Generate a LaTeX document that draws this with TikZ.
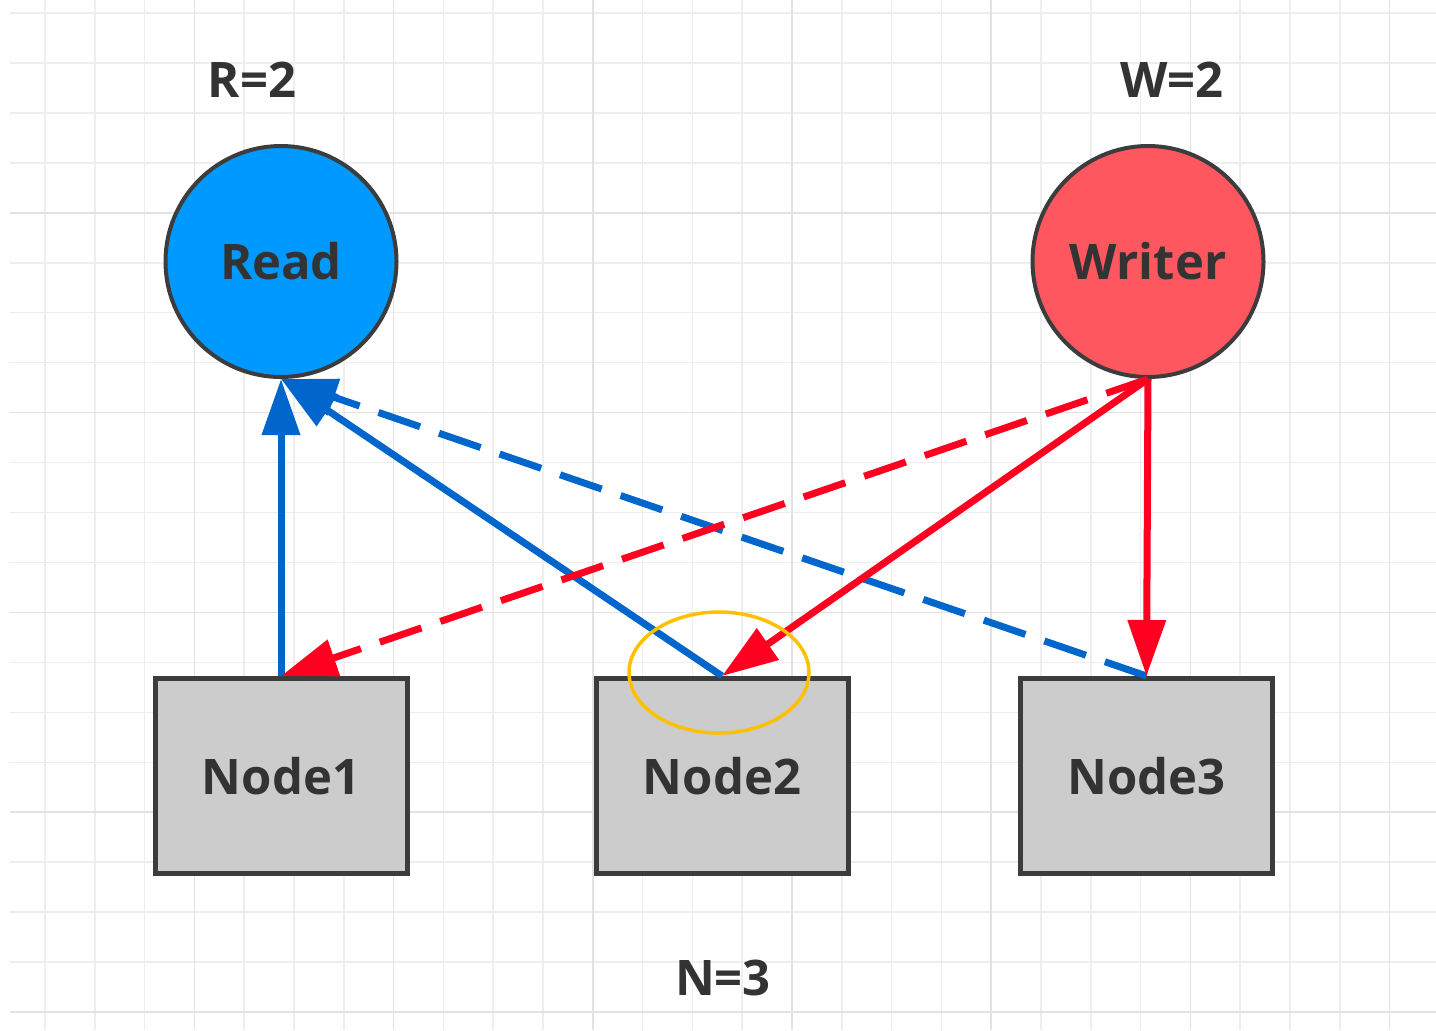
\documentclass[tikz,border=0pt]{standalone}
\usepackage{fontspec}
\setmainfont{Open Sans}
\usetikzlibrary{arrows.meta}
\definecolor{readblue}{RGB}{0,153,255}
\definecolor{writered}{RGB}{255,87,95}
\definecolor{linkblue}{RGB}{0,102,204}
\definecolor{linkred}{RGB}{255,0,32}
\definecolor{boxgray}{RGB}{204,204,204}
\definecolor{boxborder}{RGB}{60,60,60}
\definecolor{labelgray}{RGB}{51,51,51}
\definecolor{focusgold}{RGB}{255,192,0}
\definecolor{gridminor}{RGB}{238,238,238}
\definecolor{gridmajor}{RGB}{226,226,226}

\begin{document}
\begin{tikzpicture}[x=0.5pt, y=-0.5pt,
    every node/.style={font=\bfseries\fontsize{24.5}{29}\selectfont, text=labelgray},
    client/.style={circle, draw=boxborder, line width=2pt, minimum size=115.5pt},
    peer/.style={draw=boxborder, fill=boxgray, line width=2.5pt, minimum width=126pt, minimum height=97.5pt},
    link/.style={line width=3.5pt, -{Triangle[length=28pt, width=18.5pt]}},
    gap/.style={dash pattern=on 22pt off 10pt}]
    \useasboundingbox (0,0) rectangle (1436,1030);
    % grid
    \foreach \i in {0,...,27}
        \draw[gridminor, line width=0.75pt] ({45+49.8*\i}, 0) -- ++(0, 1030);
    \foreach \j in {0,...,20}
        \draw[gridminor, line width=0.75pt] (10, {13+49.95*\j}) -- (1436, {13+49.95*\j});
    \foreach \i in {3,7,...,27}
        \draw[gridmajor, line width=0.75pt] ({45+49.8*\i}, 0) -- ++(0, 1030);
    \foreach \j in {4,8,...,20}
        \draw[gridmajor, line width=0.75pt] (10, {13+49.95*\j}) -- (1436, {13+49.95*\j});
    % clients
    \node[client, fill=readblue] (read) at (281, 261.5) {Read};
    \node[client, fill=writered] (writer) at (1148, 261.5) {Writer};
    \node (rcount) at (252, 80) {R=2};
    \node (wcount) at (1172, 80) {W=2};
    % replicas
    \node[peer] (node1) at (281, 776) {Node1};
    \node[peer] (node2) at (722, 776) {Node2};
    \node[peer] (node3) at (1146.5, 776) {Node3};
    \node (ncount) at (723, 978) {N=3};
    % reads
    \draw[link, linkblue] (node1.north) -- (read.south);
    \draw[link, linkblue] (node2.north) -- (read.south);
    \draw[link, linkblue, gap] (node3.north) -- (read.south);
    % writes
    \draw[link, linkred, gap] (writer.south) -- (node1.north);
    \draw[link, linkred] (writer.south) -- (node2.north);
    \draw[link, linkred] (writer.south) -- (node3.north);
    \draw[focusgold, line width=1.75pt] (719, 672.5) ellipse [x radius=90, y radius=60.5];
\end{tikzpicture}
\end{document}
